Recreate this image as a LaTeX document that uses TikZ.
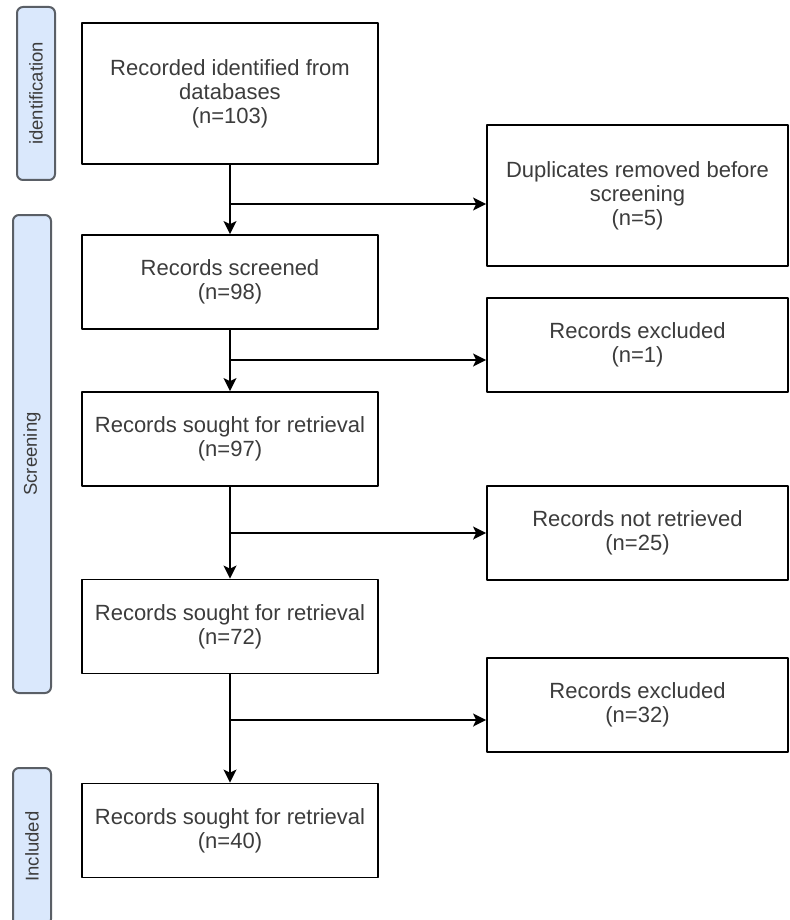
\documentclass[tikz,border=0pt]{standalone}
\usepackage{fontspec}
\setmainfont{Liberation Sans}
\usetikzlibrary{arrows.meta}
\definecolor{nenxanh}{HTML}{DAE8FC}
\definecolor{vienxam}{HTML}{5A5F66}
\definecolor{chuxam}{HTML}{3C3C3C}
\begin{document}
\begin{tikzpicture}[x=1pt, y=-1pt, line join=round, >={Stealth[length=13pt,width=13pt,inset=3pt]},
	hop/.style={draw, line width=1.8pt, fill=white, text=chuxam, align=center, inner sep=0pt, minimum width=296, minimum height=94, font=\fontsize{22}{24}\selectfont},
	hopphai/.style={hop, minimum width=301},
	giaidoan/.style={draw=vienxam, line width=2pt, fill=nenxanh, rounded corners=6pt, text=chuxam, rotate=90, inner sep=0pt, minimum height=38, font=\fontsize{18.5}{20}\selectfont},
	muiten/.style={line width=1.8pt, ->}]
	% Khung hình
	\useasboundingbox (0,0) rectangle (789,920);
	
	% Các giai đoạn bên trái
	\node[giaidoan, minimum width=173] (gd1) at (36,93.5) {identification};
	\node[giaidoan, minimum width=478] (gd2) at (32,454) {Screening};
	\node[giaidoan, minimum width=157] (gd3) at (32,846.5) {Included};
	
	% Các hộp ở giữa
	\node[hop, minimum height=141] (b1) at (230,93.5) {Recorded identified from\\databases\\(n=103)};
	\node[hop] (b2) at (230,282) {Records screened\\(n=98)};
	\node[hop] (b3) at (230,439) {Records sought for retrieval\\(n=97)};
	\node[hop] (b4) at (230,626.5) {Records sought for retrieval\\(n=72)};
	\node[hop] (b5) at (230,830.5) {Records sought for retrieval\\(n=40)};
	
	% Các hộp bên phải
	\node[hopphai, minimum height=141] (r1) at (637.5,195.5) {Duplicates removed before\\screening\\(n=5)};
	\node[hopphai] (r2) at (637.5,345) {Records excluded\\(n=1)};
	\node[hopphai] (r3) at (637.5,533) {Records not retrieved\\(n=25)};
	\node[hopphai] (r4) at (637.5,705) {Records excluded\\(n=32)};
	
	% Điểm rẽ nhánh
	\coordinate (n1) at (230,204);
	\coordinate (n2) at (230,360);
	\coordinate (n3) at (230,533);
	\coordinate (n4) at (230,720);
	
	% Mũi tên dọc
	\draw[muiten] (b1) -- (b2);
	\draw[muiten] (b2) -- (b3);
	\draw[muiten] (b3) -- (b4);
	\draw[muiten] (b4) -- (b5);
	
	% Mũi tên ngang
	\draw[muiten] (n1) -- (n1 -| r1.west);
	\draw[muiten] (n2) -- (n2 -| r2.west);
	\draw[muiten] (n3) -- (n3 -| r3.west);
	\draw[muiten] (n4) -- (n4 -| r4.west);
\end{tikzpicture}
\end{document}
